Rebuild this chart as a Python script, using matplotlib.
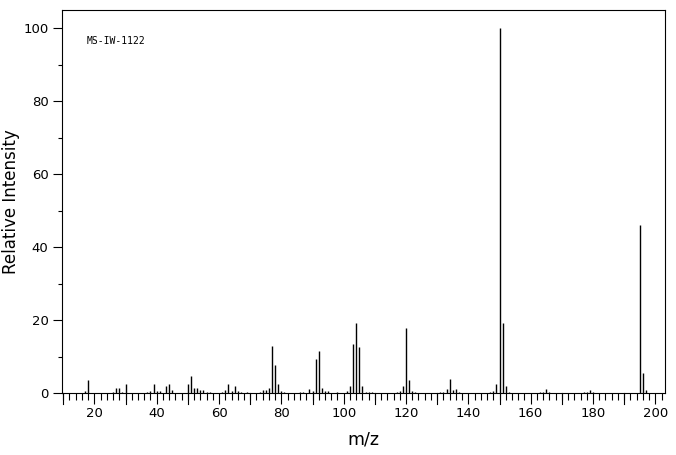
import numpy as np
import matplotlib.pyplot as plt
from matplotlib.ticker import MultipleLocator

# Масс-спектр: значения m/z и относительная интенсивность
mz = [17, 18, 26, 27, 28, 29, 30, 37, 38, 39, 40, 41, 43, 44, 45,
      50, 51, 52, 53, 54, 55, 56, 57, 61, 62, 63, 64, 65, 66, 67, 69,
      73, 74, 75, 76, 77, 78, 79, 80, 81, 86, 87, 89, 90, 91, 92, 93, 94, 95, 98,
      101, 102, 103, 104, 105, 106, 107, 108, 109,
      117, 118, 119, 120, 121, 122, 123,
      131, 132, 133, 134, 135, 136, 137,
      147, 148, 149, 150, 151, 152, 153,
      163, 164, 165, 166, 177, 178, 179, 180, 195, 196, 197]
intensity = [0.5, 3.5, 0.3, 1.5, 1.5, 0.3, 2.4, 0.3, 0.5, 2.6, 0.5, 0.5, 1.8, 2.6, 0.7,
             2.4, 4.6, 1.3, 1.3, 0.7, 0.7, 0.3, 0.3, 0.3, 0.7, 2.4, 0.5, 1.8, 0.5, 0.3, 0.3,
             0.3, 0.7, 0.9, 1.5, 12.8, 7.8, 2.6, 0.5, 0.3, 0.3, 0.3, 1.0, 0.5, 9.2, 11.4, 1.5, 0.5, 0.5, 0.3,
             0.5, 1.8, 13.3, 19.2, 12.5, 1.8, 0.4, 0.3, 0.3,
             0.4, 0.5, 1.9, 17.8, 3.6, 0.5, 0.3,
             0.3, 0.4, 1.0, 3.7, 0.9, 1.0, 0.3,
             0.3, 0.5, 2.6, 100.0, 19.2, 1.8, 0.3,
             0.3, 0.3, 1.0, 0.3, 0.3, 0.3, 0.7, 0.3, 46.0, 5.5, 0.7]
sample_id = 'MS-IW-1122'

fig = plt.figure(figsize=(6.76, 4.55), dpi=100)
ax = fig.add_axes([0.0917, 0.1363, 0.892, 0.8417])

# Пики спектра
ax.vlines(mz, 0, intensity, color='black', linewidth=1.0)

ax.set_xlim(9.6, 203.1)
ax.set_ylim(0, 105)

# Деления осей
ax.xaxis.set_major_locator(MultipleLocator(20))
ax.xaxis.set_minor_locator(MultipleLocator(2))
ax.yaxis.set_major_locator(MultipleLocator(20))
ax.yaxis.set_minor_locator(MultipleLocator(10))
ax.tick_params(axis='x', which='major', length=8, width=0.8, pad=2, labelsize=9.5)
ax.tick_params(axis='x', which='minor', length=4.7, width=0.8)
ax.tick_params(axis='y', which='major', length=6.7, width=0.8, pad=3, labelsize=9.5)
ax.tick_params(axis='y', which='minor', length=3.2, width=0.8)

# Длинные деления через каждые 10 единиц
for x in range(10, 205, 10):
    if x % 20 != 0:
        ax.plot([x, x], [0, -0.029], color='black', linewidth=0.8,
                transform=ax.get_xaxis_transform(), clip_on=False)

for s in ax.spines.values():
    s.set_linewidth(0.8)

ax.set_xlabel('m/z', fontsize=12.5, labelpad=8)
ax.set_ylabel('Relative Intensity', fontsize=12, labelpad=2)

ax.text(0.041, 0.919, sample_id, transform=ax.transAxes,
        fontsize=7, family='DejaVu Sans Mono', va='center', ha='left')

plt.savefig('out.png', dpi=100)
